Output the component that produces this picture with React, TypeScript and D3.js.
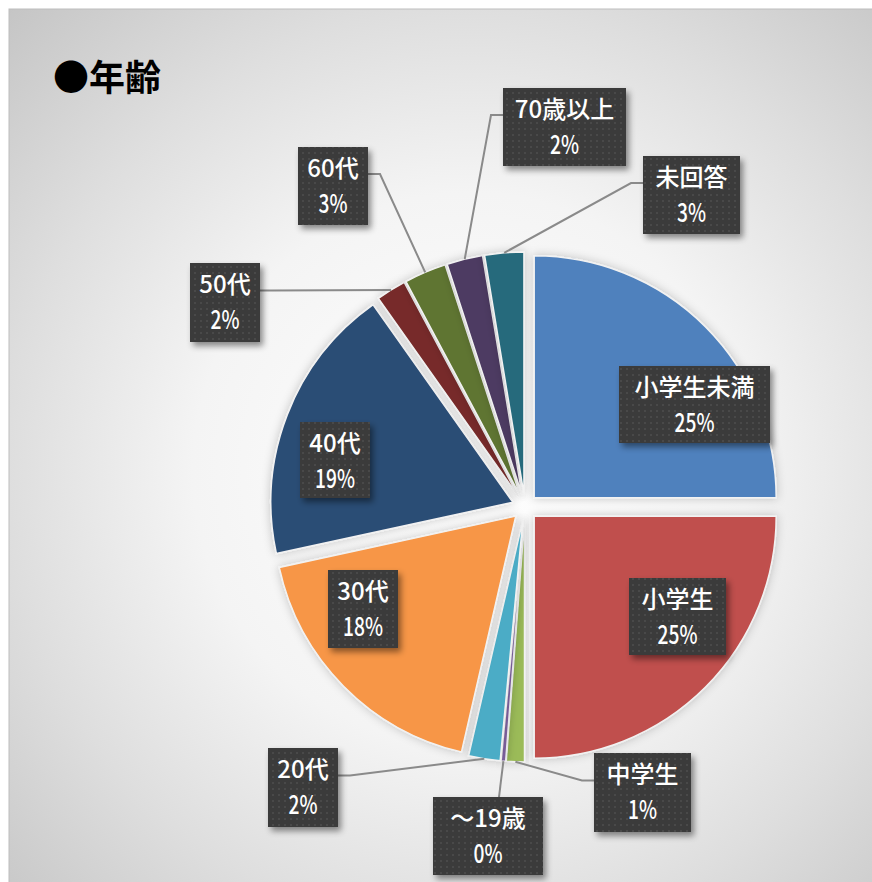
import React from "react";
import * as d3 from "d3";

const categories = [
  "小学生未満",
  "小学生",
  "中学生",
  "～19歳",
  "20代",
  "30代",
  "40代",
  "50代",
  "60代",
  "70歳以上",
  "未回答",
];
const shares = [25.0, 25.0, 1.2, 0.3, 2.1, 18.0, 18.6, 2.0, 2.8, 2.4, 2.6];
const colors = [
  "#4F81BD",
  "#C0504D",
  "#9BBB59",
  "#8064A2",
  "#4BACC6",
  "#F79646",
  "#2C4D75",
  "#772C2A",
  "#5F7530",
  "#4D3B62",
  "#276A7C",
];

// where each data label box sits, and which side its leader line leaves from
const labelBoxes: [number, number, number, number][] = [
  [619, 366, 151, 77],
  [629, 578, 97, 77],
  [594, 753, 97, 79],
  [433, 797, 110, 78],
  [268, 748, 70, 79],
  [328, 570, 70, 78],
  [300, 422, 70, 76],
  [190, 263, 70, 79],
  [298, 147, 70, 78],
  [503, 88, 123, 78],
  [643, 156, 97, 78],
];
const leaderSides = [
  "none",
  "none",
  "left",
  "top",
  "right",
  "none",
  "none",
  "right",
  "right",
  "left",
  "left",
];

const W = 872;
const H = 882;
const cx = 525;
const cy = 507;
const radius = 242;
const explode = 13;
const font = "'Noto Sans CJK JP', 'Noto Sans', sans-serif";

export default function App() {
  const total = d3.sum(shares);
  const pct = d3.format(".0%");
  const pie = d3
    .pie<number>()
    .sort(null)
    .value((d) => d);
  const arcs = pie(shares);
  const arc = d3.arc<d3.PieArcDatum<number>>().innerRadius(0).outerRadius(radius);
  const edge = d3
    .arc<d3.PieArcDatum<number>>()
    .innerRadius(radius + explode)
    .outerRadius(radius + explode);

  const offset = (a: d3.PieArcDatum<number>) => {
    const m = (a.startAngle + a.endAngle) / 2;
    return [Math.sin(m) * explode, -Math.cos(m) * explode];
  };

  return (
    <svg
      width={W}
      height={H}
      style={{ position: "fixed", left: 0, top: 0, display: "block" }}
    >
      <defs>
        <radialGradient
          id="bg"
          gradientUnits="userSpaceOnUse"
          cx={470}
          cy={470}
          r={660}
        >
          <stop offset="0" stopColor="#ffffff" />
          <stop offset="0.42" stopColor="#f4f4f4" />
          <stop offset="0.7" stopColor="#dedede" />
          <stop offset="1" stopColor="#c4c4c4" />
        </radialGradient>
        <pattern id="dots" width={6} height={6} patternUnits="userSpaceOnUse">
          <rect width={6} height={6} fill="#3a3a3a" />
          <circle cx={3} cy={3} r={0.9} fill="#4e4e4e" />
        </pattern>
        <filter id="sliceShadow" x="-20%" y="-20%" width="140%" height="140%">
          <feDropShadow dx={0} dy={0} stdDeviation={5} floodColor="#000" floodOpacity={0.22} />
        </filter>
        <filter id="boxShadow" x="-20%" y="-20%" width="150%" height="150%">
          <feDropShadow dx={3} dy={4} stdDeviation={3} floodColor="#000" floodOpacity={0.45} />
        </filter>
      </defs>
      <rect x={0} y={0} width={W} height={H} fill="#fff" />
      <rect x={9} y={9} width={W} height={H} fill="url(#bg)" stroke="#bdbdbd" strokeWidth={1} />
      <text x={53} y={91} fontFamily={font} fontWeight={700} fontSize={36} fill="#000">
        ●年齢
      </text>

      <g transform={`translate(${cx},${cy})`}>
        {arcs.map((a, i) => {
          const [dx, dy] = offset(a);
          return (
            <path
              key={categories[i]}
              d={arc(a) || ""}
              transform={`translate(${dx},${dy})`}
              fill={colors[i]}
              stroke="#f2f2f2"
              strokeWidth={1.5}
              filter="url(#sliceShadow)"
            />
          );
        })}
      </g>

      {arcs.map((a, i) => {
        const side = leaderSides[i];
        if (side === "none") return null;
        const [bx, by, bw, bh] = labelBoxes[i];
        const [px, py] = edge.centroid(a);
        const tx = cx + px;
        const ty = cy + py;
        let pts: [number, number][];
        if (side === "top") {
          pts = [
            [bx + bw * 0.6, by],
            [tx, ty],
          ];
        } else {
          const ax = side === "left" ? bx : bx + bw;
          const ay = by + bh / 2 - 12;
          const ex = side === "left" ? ax - 12 : ax + 12;
          pts = [
            [ax, ay],
            [ex, ay],
            [tx, ty],
          ];
        }
        return (
          <path
            key={"l" + i}
            d={d3.line()(pts) || ""}
            fill="none"
            stroke="#8a8a8a"
            strokeWidth={2}
          />
        );
      })}

      {arcs.map((a, i) => {
        const [bx, by, bw, bh] = labelBoxes[i];
        const mx = bx + bw / 2;
        return (
          <g key={"b" + i}>
            <rect
              x={bx}
              y={by}
              width={bw}
              height={bh}
              fill="url(#dots)"
              filter="url(#boxShadow)"
            />
            <text
              x={mx}
              y={by + 30}
              textAnchor="middle"
              fontFamily={font}
              fontWeight={500}
              fontSize={24}
              fill="#fff"
            >
              {categories[i]}
            </text>
            <text
              x={mx}
              y={by + 66}
              textAnchor="middle"
              fontFamily={font}
              fontWeight={500}
              fontSize={26}
              fill="#fff"
              transform={`translate(${mx},0) scale(0.74,1) translate(${-mx},0)`}
            >
              {pct(a.data / total)}
            </text>
          </g>
        );
      })}
    </svg>
  );
}
